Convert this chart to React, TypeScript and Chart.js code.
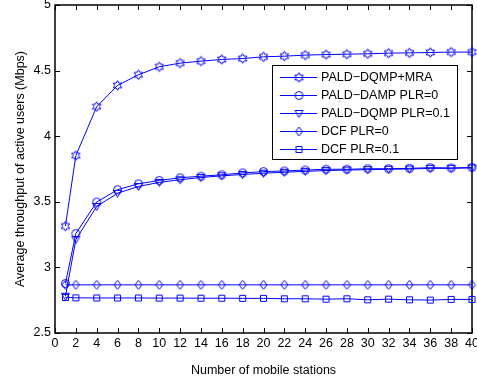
import React, { useEffect, useRef } from 'react';
import { Chart, registerables } from 'chart.js';

Chart.register(...registerables);

// ---- data ----
const stations = [1, 2, 4, 6, 8, 10, 12, 14, 16, 18, 20, 22, 24, 26, 28, 30, 32, 34, 36, 38, 40];
const mraSeries = [3.315, 3.852, 4.225, 4.387, 4.468, 4.529, 4.557, 4.572, 4.585, 4.592, 4.605, 4.61, 4.618, 4.622, 4.625, 4.628, 4.633, 4.635, 4.638, 4.641, 4.641];
const plr0Series = [2.878, 3.258, 3.498, 3.592, 3.637, 3.663, 3.683, 3.695, 3.706, 3.72, 3.73, 3.735, 3.742, 3.748, 3.748, 3.752, 3.752, 3.755, 3.76, 3.758, 3.762];
const plr01Series = [2.78, 3.212, 3.465, 3.565, 3.617, 3.648, 3.668, 3.685, 3.698, 3.708, 3.718, 3.725, 3.732, 3.738, 3.742, 3.745, 3.748, 3.75, 3.755, 3.755, 3.758];
const dcf0Series = [2.867, 2.867, 2.867, 2.867, 2.867, 2.867, 2.867, 2.867, 2.867, 2.867, 2.867, 2.867, 2.867, 2.867, 2.867, 2.867, 2.867, 2.867, 2.867, 2.867, 2.867];
const dcf01Series = [2.771, 2.768, 2.767, 2.767, 2.767, 2.766, 2.766, 2.765, 2.765, 2.764, 2.764, 2.761, 2.761, 2.758, 2.761, 2.753, 2.758, 2.753, 2.751, 2.756, 2.756];
const seriesLabels = ['PALD\u2212DQMP+MRA', 'PALD\u2212DAMP PLR=0', 'PALD\u2212DQMP PLR=0.1', 'DCF PLR=0', 'DCF PLR=0.1'];
const markerKinds = ['hex', 'circle', 'tri', 'diamond', 'square'];
const xAxisMin = 0;
const xAxisMax = 40;
const xAxisStep = 2;
const yAxisMin = 2.5;
const yAxisMax = 5;
const yAxisStep = 0.5;
const xTitle = 'Number of mobile stations';
const yTitle = 'Average throughput of active users (Mbps)';

const BLUE = '#0000ff';
const FONT = '"Liberation Sans", Arial, Helvetica, sans-serif';
const FONT_SIZE = 12.5;

function makeMarker(kind: string): HTMLCanvasElement {
  const s = 13;
  const c = document.createElement('canvas');
  c.width = s;
  c.height = s;
  const ctx = c.getContext('2d')!;
  const m = 6.5;
  ctx.strokeStyle = BLUE;
  ctx.lineWidth = 1;
  ctx.beginPath();
  if (kind === 'hex') {
    const R = 4.8;
    const r = R / Math.sqrt(3);
    for (let k = 0; k < 12; k++) {
      const ang = (-90 + k * 30) * Math.PI / 180;
      const rad = k % 2 === 0 ? R : r;
      const px = m + rad * Math.cos(ang);
      const py = m + rad * Math.sin(ang);
      if (k === 0) ctx.moveTo(px, py); else ctx.lineTo(px, py);
    }
    ctx.closePath();
  } else if (kind === 'circle') {
    ctx.arc(m, m, 4, 0, Math.PI * 2);
  } else if (kind === 'tri') {
    ctx.moveTo(m - 4, m - 3);
    ctx.lineTo(m + 4, m - 3);
    ctx.lineTo(m, m + 4);
    ctx.closePath();
  } else if (kind === 'diamond') {
    ctx.moveTo(m, m - 4.5);
    ctx.lineTo(m + 3.5, m);
    ctx.lineTo(m, m + 4.5);
    ctx.lineTo(m - 3.5, m);
    ctx.closePath();
  } else {
    ctx.rect(m - 3, m - 3, 6, 6);
  }
  ctx.stroke();
  return c;
}

export default function App() {
  const ref = useRef<HTMLCanvasElement | null>(null);

  useEffect(() => {
    if (!ref.current) return;
    const markers = markerKinds.map(makeMarker);
    const seriesValues = [mraSeries, plr0Series, plr01Series, dcf0Series, dcf01Series];

    const framePlugin = {
      id: 'matlabFrame',
      beforeDatasetsDraw(chart: any) {
        const { ctx, chartArea } = chart;
        const { left, right, top, bottom } = chartArea;
        const xs = chart.scales.x;
        const ys = chart.scales.y;
        ctx.save();
        ctx.strokeStyle = '#000';
        ctx.lineWidth = 1;
        ctx.beginPath();
        xs.ticks.forEach((t: any) => {
          const px = Math.round(xs.getPixelForValue(t.value)) + 0.5;
          ctx.moveTo(px, bottom);
          ctx.lineTo(px, bottom - 5);
          ctx.moveTo(px, top);
          ctx.lineTo(px, top + 5);
        });
        ys.ticks.forEach((t: any) => {
          const py = Math.round(ys.getPixelForValue(t.value)) + 0.5;
          ctx.moveTo(left, py);
          ctx.lineTo(left + 5, py);
          ctx.moveTo(right, py);
          ctx.lineTo(right - 5, py);
        });
        ctx.stroke();
        ctx.lineWidth = 1.5;
        ctx.strokeRect(left, top, right - left, bottom - top);
        ctx.restore();
      },
    };

    const legendPlugin = {
      id: 'matlabLegend',
      afterDraw(chart: any) {
        const { ctx } = chart;
        const bx = 272, by = 65, bw = 185, bh = 94;
        ctx.save();
        ctx.fillStyle = '#fff';
        ctx.fillRect(bx, by, bw, bh);
        ctx.strokeStyle = '#000';
        ctx.lineWidth = 1;
        ctx.strokeRect(bx + 0.5, by + 0.5, bw, bh);
        ctx.font = `${FONT_SIZE}px ${FONT}`;
        ctx.textBaseline = 'middle';
        ctx.textAlign = 'left';
        seriesLabels.forEach((lab, i) => {
          const y = 77 + i * 17.9;
          const yl = Math.round(y) + 0.5;
          ctx.strokeStyle = BLUE;
          ctx.lineWidth = 1;
          ctx.beginPath();
          ctx.moveTo(280, yl);
          ctx.lineTo(317, yl);
          ctx.stroke();
          const mk = markers[i];
          ctx.drawImage(mk, 299 - mk.width / 2, yl - mk.height / 2);
          ctx.fillStyle = '#000';
          ctx.fillText(lab, 321, y + 0.5);
        });
        ctx.restore();
      },
    };

    const chart = new Chart(ref.current, {
      type: 'line',
      data: {
        datasets: seriesValues.map((vals, i) => ({
          label: seriesLabels[i],
          data: stations.map((x, j) => ({ x, y: vals[j] })),
          borderColor: BLUE,
          backgroundColor: BLUE,
          borderWidth: 1,
          pointStyle: markers[i] as any,
          pointRadius: 4,
          tension: 0,
          fill: false,
          clip: false as any,
        })),
      },
      options: {
        animation: false,
        responsive: false,
        events: [],
        layout: { padding: { top: 4, right: 5, left: 0, bottom: 0 } },
        plugins: {
          legend: { display: false },
          tooltip: { enabled: false },
        },
        scales: {
          x: {
            type: 'linear',
            min: xAxisMin,
            max: xAxisMax,
            grid: { display: false, drawTicks: false },
            border: { display: false },
            ticks: {
              stepSize: xAxisStep,
              padding: 3.5,
              color: '#000',
              font: { family: FONT, size: FONT_SIZE },
              maxRotation: 0,
              autoSkip: false,
            },
            title: {
              display: true,
              text: xTitle,
              color: '#000',
              font: { family: FONT, size: FONT_SIZE },
              padding: { top: 0, bottom: 7.5 },
            },
            afterFit(scale: any) {
              scale.height = 53;
              scale.paddingLeft = 0;
              scale.paddingRight = 0;
            },
          },
          y: {
            type: 'linear',
            min: yAxisMin,
            max: yAxisMax,
            grid: { display: false, drawTicks: false },
            border: { display: false },
            ticks: {
              stepSize: yAxisStep,
              padding: 4,
              color: '#000',
              font: { family: FONT, size: FONT_SIZE },
              callback: (v: any) => String(v),
            },
            title: {
              display: true,
              text: yTitle,
              color: '#000',
              font: { family: FONT, size: FONT_SIZE },
              padding: { top: 13.5, bottom: 0 },
            },
            afterFit(scale: any) {
              scale.width = 55;
              scale.paddingTop = 0;
              scale.paddingBottom = 0;
            },
          },
        },
      },
      plugins: [framePlugin, legendPlugin],
    });

    return () => chart.destroy();
  }, []);

  return (
    <div style={{ position: 'fixed', left: 0, top: 0, width: 477, height: 386, overflow: 'hidden', background: '#fff' }}>
      <canvas ref={ref} width={477} height={386} style={{ display: 'block' }} />
    </div>
  );
}
